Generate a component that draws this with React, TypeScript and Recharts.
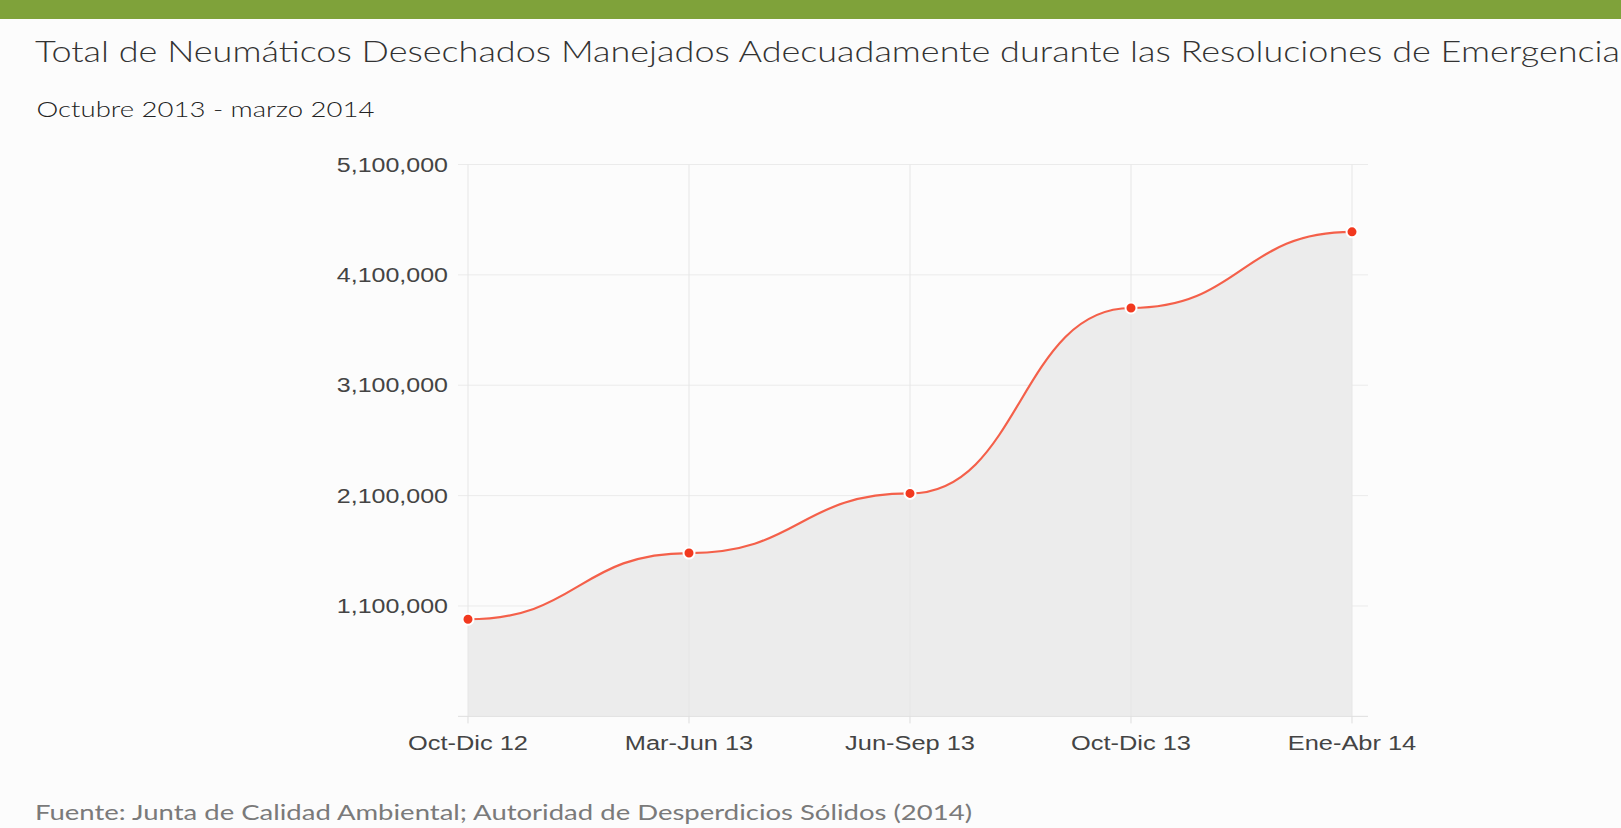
import { AreaChart, Area, XAxis, YAxis, CartesianGrid, ReferenceLine } from "recharts"

const periods = ["Oct-Dic 12", "Mar-Jun 13", "Jun-Sep 13", "Oct-Dic 13", "Ene-Abr 14"]
const tires = [980000, 1580000, 2120000, 3800000, 4490000]
const yTicks = [1100000, 2100000, 3100000, 4100000, 5100000]
const yDomain = [100000, 5100000]

const TITLE = "Total de Neumáticos Desechados Manejados Adecuadamente durante las Resoluciones de Emergencia"
const SUBTITLE = "Octubre 2013 - marzo 2014"
const SOURCE = "Fuente: Junta de Calidad Ambiental; Autoridad de Desperdicios Sólidos (2014)"

const W = 1621
const H = 828
const PLOT_LEFT = 458
const PLOT_TOP = 164.5
const PLOT_BOTTOM = 716.4
const PLOT_RIGHT = 1368

const data = periods.map((p, i) => ({ period: p, value: tires[i] }))

const YTick = (props: any) => {
  const { y, payload } = props
  return (
    <text
      transform={`translate(${PLOT_LEFT - 10},${y}) scale(1.25,1)`}
      textAnchor="end"
      dy="0.36em"
      fontFamily="Liberation Sans, Arial, sans-serif"
      fontSize={20}
      fill="#444"
    >
      {Number(payload.value).toLocaleString("en-US")}
    </text>
  )
}

const XTick = (props: any) => {
  const { x, payload } = props
  return (
    <text
      transform={`translate(${x},${PLOT_BOTTOM + 33.6}) scale(1.27,1)`}
      textAnchor="middle"
      fontFamily="Liberation Sans, Arial, sans-serif"
      fontSize={20}
      fill="#444"
    >
      {payload.value}
    </text>
  )
}

const renderDot = (props: any) => {
  const { cx, cy, index } = props
  return <circle key={`dot-${index}`} cx={cx} cy={cy} r={5.5} fill="#f2391f" stroke="#fff" strokeWidth={2} />
}

export default function App() {
  return (
    <div style={{ position: "absolute", left: 0, top: 0, width: W, height: H, background: "#fcfcfc", overflow: "hidden" }}>
      <div style={{ position: "absolute", left: 0, top: 0, width: W, height: 19, background: "#7fa23a" }} />
      <svg width={W} height={H} style={{ position: "absolute", left: 0, top: 0, pointerEvents: "none" }}>
        <text x={35} y={61.7} fontFamily="Lato" fontWeight={300} fontSize={30} fill="#333"
          textLength={1585} lengthAdjust="spacingAndGlyphs">{TITLE}</text>
        <text x={36.5} y={116.6} fontFamily="Lato" fontWeight={300} fontSize={22} fill="#222"
          textLength={338} lengthAdjust="spacingAndGlyphs">{SUBTITLE}</text>
        <text x={35} y={820} fontFamily="Lato" fontSize={22} fill="#7a7a7a"
          textLength={937} lengthAdjust="spacingAndGlyphs">{SOURCE}</text>
      </svg>
      <div style={{ position: "absolute", left: 0, top: 0 }}>
        <AreaChart
          width={W}
          height={H}
          data={data}
          margin={{ top: PLOT_TOP, right: W - PLOT_RIGHT, bottom: H - PLOT_BOTTOM - 40, left: 0 }}
        >
          <CartesianGrid stroke="#ebebeb" strokeWidth={1} vertical={false} />
          {periods.map(p => (
            <ReferenceLine key={p} x={p} stroke="#e6e6e6" strokeWidth={1} />
          ))}
          <XAxis
            dataKey="period"
            height={40}
            padding={{ left: 10, right: 16 }}
            stroke="#e2e2e2"
            tickLine={{ stroke: "#dddddd" }}
            tickSize={7}
            tick={XTick}
            interval={0}
          />
          <YAxis
            type="number"
            domain={yDomain}
            ticks={yTicks}
            width={PLOT_LEFT}
            axisLine={false}
            tickLine={false}
            tick={YTick}
          />
          <Area
            type="bumpX"
            dataKey="value"
            stroke="#f4604a"
            strokeWidth={2.2}
            fill="#ececec"
            fillOpacity={1}
            dot={renderDot}
            activeDot={false}
            isAnimationActive={false}
          />
        </AreaChart>
      </div>
    </div>
  )
}
